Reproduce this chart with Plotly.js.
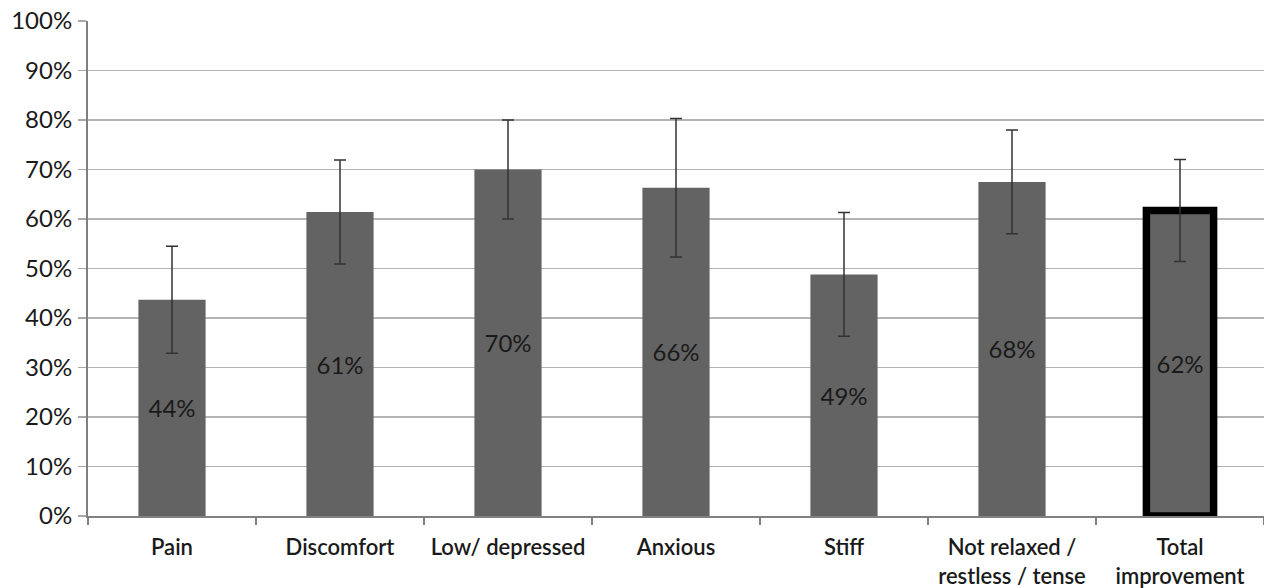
<!DOCTYPE html>
<html>
<head>
<meta charset="utf-8">
<script src="https://cdn.plot.ly/plotly-3.0.1.min.js"></script>
<style>html,body{margin:0;padding:0;background:#fff;}#chart{width:1264px;height:588px;}</style>
</head>
<body>
<div id="chart"></div>
<script>
const categories = ['Pain', 'Discomfort', 'Low/ depressed', 'Anxious', 'Stiff', 'Not relaxed /<br>restless / tense', 'Total<br>improvement'];
const values = [0.437, 0.614, 0.700, 0.663, 0.488, 0.675, 0.617];
const errors = [0.108, 0.105, 0.100, 0.140, 0.125, 0.105, 0.103];
const labels = ['44%', '61%', '70%', '66%', '49%', '68%', '62%'];
const yTickVals = [0, 0.1, 0.2, 0.3, 0.4, 0.5, 0.6, 0.7, 0.8, 0.9, 1.0];
const yTickText = ['0%', '10%', '20%', '30%', '40%', '50%', '60%', '70%', '80%', '90%', '100%'];

const outlineWidths = categories.map((c, i) => i === categories.length - 1 ? 7.5 : 0);

const trace = {
  type: 'bar',
  x: categories,
  y: values,
  text: labels,
  textposition: 'inside',
  insidetextanchor: 'middle',
  textangle: 0,
  constraintext: 'none',
  textfont: {family: 'Lato, "Open Sans", sans-serif', size: 24, color: '#1a1a1a'},
  marker: {color: '#636363', line: {color: '#000000', width: outlineWidths}},
  error_y: {type: 'data', array: errors, visible: true, color: '#333333', thickness: 1.5, width: 6},
  hoverinfo: 'none'
};

const layout = {
  width: 1264, height: 588,
  margin: {l: 88, r: 0, t: 21, b: 72},
  paper_bgcolor: '#ffffff', plot_bgcolor: '#ffffff',
  bargap: 0.6,
  showlegend: false,
  font: {family: 'Lato, "Open Sans", sans-serif', color: '#1a1a1a'},
  xaxis: {
    type: 'category',
    range: [-0.5, 6.5],
    showline: true, linecolor: '#808080', linewidth: 2,
    ticks: 'outside', tickson: 'boundaries', ticklen: 7, tickcolor: '#808080', tickwidth: 1.5,
    showgrid: false,
    tickfont: {family: 'Lato, "Open Sans", sans-serif', size: 22, color: '#1a1a1a', weight: 600},
    ticklabelstandoff: 11,
    fixedrange: true
  },
  yaxis: {
    range: [0, 1],
    tickvals: yTickVals, ticktext: yTickText,
    showline: true, linecolor: '#808080', linewidth: 2,
    ticks: 'outside', ticklen: 8, tickcolor: '#a8a8a8', tickwidth: 1.5,
    showgrid: true, gridcolor: '#b4b4b4', gridwidth: 1.5,
    zeroline: false,
    tickfont: {family: 'Lato, "Open Sans", sans-serif', size: 24, color: '#1a1a1a'},
    ticklabelstandoff: 1,
    fixedrange: true
  }
};

Plotly.newPlot('chart', [trace], layout, {displayModeBar: false, staticPlot: true});
</script>
</body>
</html>
